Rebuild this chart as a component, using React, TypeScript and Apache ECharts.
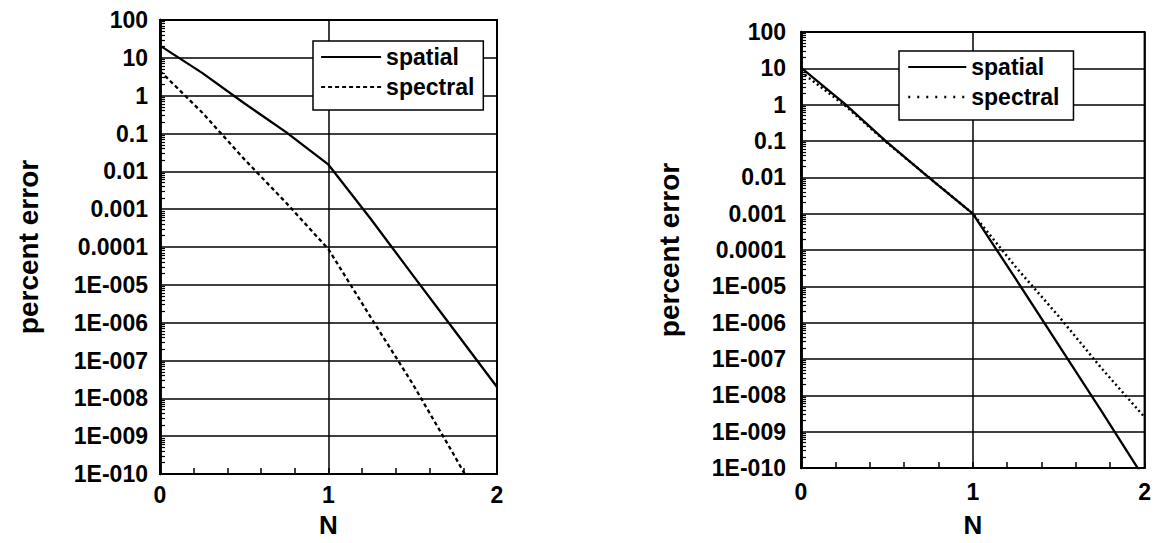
import React, { useEffect, useRef } from 'react';
import * as echarts from 'echarts';

const nValues = [0, 0.25, 0.5, 0.75, 1, 1.25, 1.5, 1.75, 2];
const leftSpatial = [21, 4.0, 0.63, 0.107, 0.015, 5.6e-4, 1.8e-5, 6e-7, 2.0e-8];
const leftSpectral = [4.5, 0.36, 0.021, 0.00145, 8.7e-5, 1.4e-6, 2.4e-8, 2.9e-10, 3e-12];
const rightSpatial = [10.5, 1.1, 0.093, 0.0093, 0.001, 1.6e-5, 2.4e-7, 3.6e-9, 5e-11];
const rightSpectral = [8, 1.0, 0.09, 0.0095, 0.001, 3.4e-5, 1.5e-6, 5.5e-8, 2.5e-9];
const yTickLabels = [
  '1E-010', '1E-009', '1E-008', '1E-007', '1E-006', '1E-005',
  '0.0001', '0.001', '0.01', '0.1', '1', '10', '100',
];
const xTickLabels = ['0', '1', '2'];
const seriesNames = ['spatial', 'spectral'];
const xName = 'N';
const yName = 'percent error';

// unlabelled log minor-tick positions (2..9 in every decade)
const yMinorTicks: number[] = [];
for (let e = -10; e <= 1; e++) {
  for (let k = 2; k <= 9; k++) yMinorTicks.push(Number((k * Math.pow(10, e)).toPrecision(3)));
}

const FONT = '"Liberation Sans", Arial, Helvetica, sans-serif';
const BLACK = '#000';

function pairs(ys: number[]) {
  return nValues.map((n, i) => [n, ys[i]]);
}

function makeX(gridIndex: number, labelMargin: number, nameGap: number) {
  return {
    type: 'value',
    gridIndex,
    min: 0,
    max: 2,
    interval: 1,
    axisLine: { show: true, lineStyle: { color: BLACK, width: 2 } },
    axisTick: { show: true, inside: true, length: 6, lineStyle: { color: BLACK, width: 1.5 } },
    minorTick: { show: true, splitNumber: 5, length: 6, lineStyle: { color: BLACK, width: 1.5 } },
    splitLine: { show: true, lineStyle: { color: BLACK, width: 1.5 } },
    axisLabel: {
      formatter: (v: number) => xTickLabels[Math.round(v)] ?? '',
      fontSize: 23,
      fontWeight: 'bold',
      color: BLACK,
      fontFamily: FONT,
      margin: labelMargin,
    },
    name: xName,
    nameLocation: 'middle',
    nameGap,
    nameTextStyle: { fontSize: 26, fontWeight: 'bold', color: BLACK, fontFamily: FONT },
  };
}

function makeY(gridIndex: number, labelMargin: number, nameGap: number) {
  return {
    type: 'log',
    logBase: 10,
    gridIndex,
    position: 'left',
    min: 1e-10,
    max: 100,
    interval: 1,
    axisLine: { show: true, lineStyle: { color: BLACK, width: 2.5 } },
    axisTick: { show: false },
    splitLine: { show: true, lineStyle: { color: BLACK, width: 1.5 } },
    axisLabel: {
      formatter: (v: number) => yTickLabels[Math.round(Math.log10(v)) + 10] ?? '',
      fontSize: 23,
      fontWeight: 'bold',
      color: BLACK,
      fontFamily: FONT,
      margin: labelMargin,
    },
    name: yName,
    nameLocation: 'middle',
    nameGap,
    nameTextStyle: { fontSize: 28, fontWeight: 'bold', color: BLACK, fontFamily: FONT },
  };
}

function makeMinorY(gridIndex: number) {
  return {
    type: 'log',
    logBase: 10,
    gridIndex,
    position: 'left',
    offset: 0,
    min: 1e-10,
    max: 100,
    interval: 1,
    axisLine: { show: true, onZero: false, lineStyle: { color: BLACK, width: 2.5 } },
    axisTick: {
      show: true,
      inside: true,
      length: 5,
      customValues: yMinorTicks,
      lineStyle: { color: BLACK, width: 1.2 },
    },
    splitLine: { show: false },
    axisLabel: { show: false },
  };
}

const hiddenSymbol = { opacity: 0, color: 'transparent', borderColor: 'transparent', borderWidth: 0 };

function makeLegend(left: number, top: number, itemWidth: number, spectralDash: number[], spectralWidth: number, padding: number[]) {
  return {
    left,
    top,
    orient: 'vertical',
    selectedMode: false,
    itemWidth,
    itemHeight: 14,
    itemGap: 6,
    padding,
    borderColor: BLACK,
    borderWidth: 1.5,
    backgroundColor: '#fff',
    itemStyle: hiddenSymbol,
    textStyle: { fontSize: 23, fontWeight: 'bold', color: BLACK, fontFamily: FONT, lineHeight: 24 },
    data: [
      { name: seriesNames[0], itemStyle: hiddenSymbol, lineStyle: { type: 'solid', width: 2, color: BLACK } },
      { name: seriesNames[1], itemStyle: hiddenSymbol, lineStyle: { type: spectralDash, width: spectralWidth, color: BLACK } },
    ],
  };
}

export default function App() {
  const ref = useRef<HTMLDivElement>(null);
  useEffect(() => {
    if (!ref.current) return;
    const chart = echarts.init(ref.current, undefined, { renderer: 'svg' });
    const lineSeries = (name: string, idx: number, data: number[], width: number, type: any) => ({
      name,
      type: 'line',
      xAxisIndex: idx,
      yAxisIndex: idx,
      symbol: 'none',
      showSymbol: false,
      clip: true,
      color: BLACK,
      itemStyle: { color: BLACK },
      lineStyle: { color: BLACK, width, type },
      data: pairs(data),
      z: 5,
    });
    const option: any = {
      animation: false,
      backgroundColor: '#fff',
      color: [BLACK],
      grid: [
        { left: 160, top: 20, width: 337, height: 459, show: true, borderColor: BLACK, borderWidth: 2, backgroundColor: 'transparent' },
        { left: 801, top: 32, width: 353, height: 451, show: true, borderColor: BLACK, borderWidth: 2, backgroundColor: 'transparent' },
      ],
      xAxis: [makeX(0, 9, 38), makeX(1, 12, 44)],
      yAxis: [makeY(0, 12, 118), makeY(1, 15, 118), makeMinorY(0), makeMinorY(1)],
      legend: [
        makeLegend(313, 41, 60, [4, 3], 2.2, [4, 9, 11, 7]),
        makeLegend(899, 51, 58, [2, 7], 2.5, [4, 14, 11, 8]),
      ],
      series: [
        lineSeries(seriesNames[0], 0, leftSpatial, 2.3, 'solid'),
        lineSeries(seriesNames[1], 0, leftSpectral, 2.3, [4, 3]),
        lineSeries(seriesNames[0], 1, rightSpatial, 2.3, 'solid'),
        lineSeries(seriesNames[1], 1, rightSpectral, 2.5, [2, 3]),
      ],
    };
    chart.setOption(option);
    return () => chart.dispose();
  }, []);
  return (
    <div
      ref={ref}
      style={{ position: 'fixed', left: 0, top: 0, width: 1154, height: 543, background: '#fff' }}
    />
  );
}
